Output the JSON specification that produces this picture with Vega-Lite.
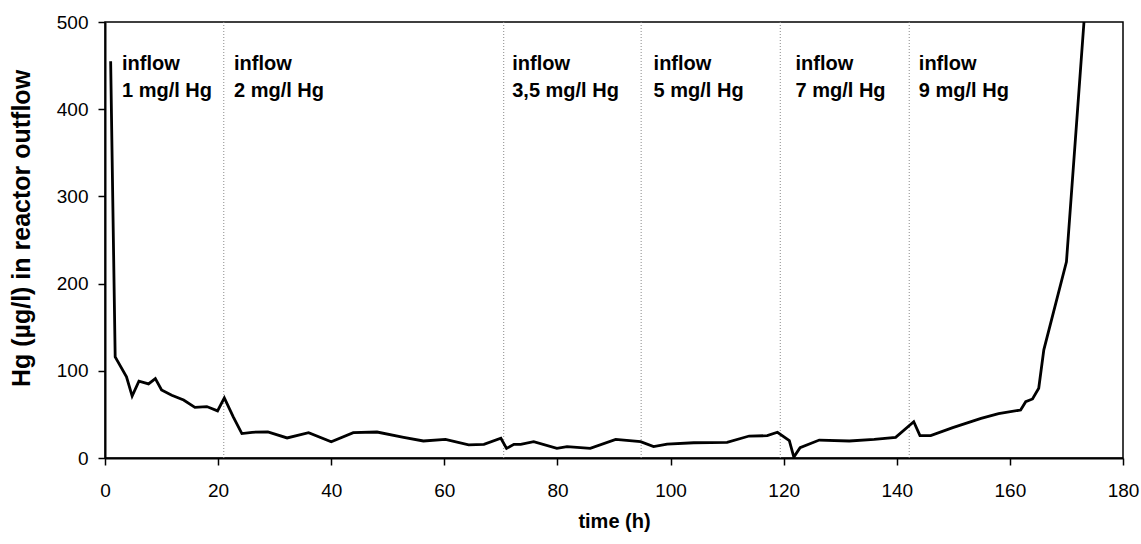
{
  "$schema": "https://vega.github.io/schema/vega-lite/v6.json",
  "autosize": {"type": "none"},
  "padding": {"left": 105, "top": 22, "right": 18, "bottom": 86},
  "width": 1018,
  "height": 436,
  "background": "white",
  "config": {
    "view": {"stroke": "black", "strokeWidth": 1.5},
    "font": "Liberation Sans"
  },
  "datasets": {
    "hg": [
      {"t": 1.0, "hg": 455},
      {"t": 1.8, "hg": 116},
      {"t": 3.8, "hg": 93},
      {"t": 4.8, "hg": 71},
      {"t": 6.0, "hg": 88},
      {"t": 7.7, "hg": 85},
      {"t": 8.9, "hg": 91},
      {"t": 10.0, "hg": 78},
      {"t": 11.8, "hg": 72},
      {"t": 13.9, "hg": 66.5},
      {"t": 15.9, "hg": 58},
      {"t": 18.0, "hg": 59},
      {"t": 19.9, "hg": 54},
      {"t": 21.1, "hg": 69},
      {"t": 22.7, "hg": 47},
      {"t": 24.2, "hg": 28},
      {"t": 26.0, "hg": 29.5},
      {"t": 28.8, "hg": 30},
      {"t": 32.2, "hg": 23},
      {"t": 36.0, "hg": 29},
      {"t": 40.0, "hg": 18.7},
      {"t": 43.9, "hg": 29},
      {"t": 48.1, "hg": 29.8},
      {"t": 52.8, "hg": 23.7},
      {"t": 56.3, "hg": 19.5},
      {"t": 60.2, "hg": 21.4},
      {"t": 64.3, "hg": 15},
      {"t": 67.0, "hg": 15.7},
      {"t": 70.0, "hg": 22.6},
      {"t": 71.0, "hg": 11},
      {"t": 72.3, "hg": 15.7},
      {"t": 73.5, "hg": 15.7},
      {"t": 75.8, "hg": 18.7},
      {"t": 79.9, "hg": 11},
      {"t": 81.7, "hg": 13},
      {"t": 85.8, "hg": 11},
      {"t": 90.3, "hg": 21.4},
      {"t": 94.7, "hg": 18.7},
      {"t": 97.0, "hg": 13},
      {"t": 99.4, "hg": 16},
      {"t": 104.1, "hg": 17.5},
      {"t": 110.0, "hg": 18},
      {"t": 113.9, "hg": 25.2},
      {"t": 117.1, "hg": 25.6},
      {"t": 118.9, "hg": 29.5},
      {"t": 121.0, "hg": 20},
      {"t": 121.8, "hg": 1},
      {"t": 122.9, "hg": 11.8},
      {"t": 126.3, "hg": 20.6},
      {"t": 131.6, "hg": 19.5},
      {"t": 136.0, "hg": 21.4},
      {"t": 139.8, "hg": 23.7},
      {"t": 143.0, "hg": 41.6},
      {"t": 144.1, "hg": 25.6},
      {"t": 146.0, "hg": 25.6},
      {"t": 149.9, "hg": 34.8},
      {"t": 154.9, "hg": 45.5},
      {"t": 158.0, "hg": 51},
      {"t": 161.9, "hg": 55},
      {"t": 162.8, "hg": 64.6},
      {"t": 164.0, "hg": 67.7},
      {"t": 165.1, "hg": 80},
      {"t": 166.0, "hg": 124},
      {"t": 170.0, "hg": 225},
      {"t": 173.1, "hg": 500}
    ],
    "changes": [
      {"t": 21},
      {"t": 70.5},
      {"t": 94.8},
      {"t": 119.4},
      {"t": 142.2}
    ],
    "labels": [
      {"t": 3.0, "y": 445, "label": "inflow|1 mg/l Hg"},
      {"t": 22.8, "y": 445, "label": "inflow|2 mg/l Hg"},
      {"t": 72.0, "y": 445, "label": "inflow|3,5 mg/l Hg"},
      {"t": 97.0, "y": 445, "label": "inflow|5 mg/l Hg"},
      {"t": 122.1, "y": 445, "label": "inflow|7 mg/l Hg"},
      {"t": 143.9, "y": 445, "label": "inflow|9 mg/l Hg"}
    ]
  },
  "layer": [
    {
      "data": {"name": "changes"},
      "mark": {"type": "rule", "color": "#8a8a8a", "strokeWidth": 1, "strokeDash": [1, 2]},
      "encoding": {
        "x": {"field": "t", "type": "quantitative", "scale": {"domain": [0, 180]}}
      }
    },
    {
      "data": {"name": "hg"},
      "mark": {"type": "line", "color": "black", "strokeWidth": 2.8, "clip": true, "strokeJoin": "miter"},
      "encoding": {
        "x": {
          "field": "t",
          "type": "quantitative",
          "scale": {"domain": [0, 180], "nice": false, "zero": true},
          "axis": {
            "values": [0, 20, 40, 60, 80, 100, 120, 140, 160, 180],
            "title": "time (h)",
            "grid": false,
            "domainColor": "black", "domainWidth": 2,
            "tickColor": "black", "tickWidth": 1.5, "tickSize": 7,
            "labelColor": "black", "labelFont": "Liberation Sans", "labelFontSize": 19,
            "labelPadding": 16, "labelFlush": false,
            "titleColor": "black", "titleFont": "Liberation Sans", "titleFontSize": 20, "titleFontWeight": "bold",
            "titlePadding": 11
          }
        },
        "y": {
          "field": "hg",
          "type": "quantitative",
          "scale": {"domain": [0, 500], "nice": false},
          "axis": {
            "values": [0, 100, 200, 300, 400, 500],
            "title": "Hg (µg/l) in reactor outflow",
            "grid": false,
            "domainColor": "black", "domainWidth": 2,
            "tickColor": "black", "tickWidth": 1.5, "tickSize": 7,
            "labelColor": "black", "labelFont": "Liberation Sans", "labelFontSize": 19,
            "labelPadding": 10, "labelFlush": false,
            "titleColor": "black", "titleFont": "Liberation Sans", "titleFontSize": 25, "titleFontWeight": "bold",
            "titleY": 206, "titlePadding": 22
          }
        }
      }
    },
    {
      "data": {"name": "labels"},
      "mark": {"type": "text", "align": "left", "baseline": "alphabetic", "lineBreak": "|", "lineHeight": 27, "fontSize": 20, "fontWeight": "bold", "font": "Liberation Sans", "color": "black"},
      "encoding": {
        "x": {"field": "t", "type": "quantitative"},
        "y": {"field": "y", "type": "quantitative"},
        "text": {"field": "label"}
      }
    }
  ]
}
